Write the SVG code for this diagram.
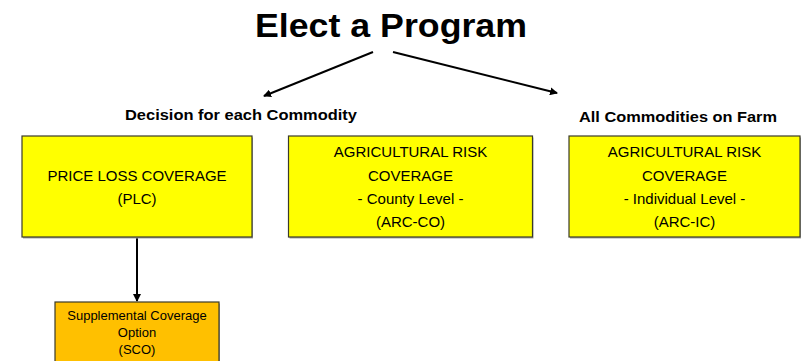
<svg xmlns="http://www.w3.org/2000/svg" width="806" height="361" viewBox="0 0 806 361">
<defs>
<marker id="ah" markerWidth="8" markerHeight="8" refX="7" refY="4" orient="auto" markerUnits="userSpaceOnUse">
<path d="M0,0 L8,4 L0,8 Z" fill="#000"/>
</marker>
<style>
.box{stroke:#3a3a2a;stroke-width:1.2}
.shadow{fill:#a8a8a8}
.y{fill:#ffff00}
.o{fill:#ffc000}
.t{font-family:"Liberation Sans",Arial,sans-serif;fill:#000;text-anchor:middle}
.bt{font-size:15px}
.st{font-size:13px}
.h{font-weight:bold}
.conn{stroke:#000;stroke-width:2;fill:none;marker-end:url(#ah)}
</style>
</defs>
<rect width="806" height="361" fill="#fff"/>
<g id="title">
<text class="t h" x="391" y="37" font-size="33" textLength="272" lengthAdjust="spacingAndGlyphs">Elect a Program</text>
</g>
<g id="label-each">
<text class="t h" x="241" y="120" font-size="15" textLength="232" lengthAdjust="spacingAndGlyphs">Decision for each Commodity</text>
</g>
<g id="label-all">
<text class="t h" x="678" y="122" font-size="15" textLength="198" lengthAdjust="spacingAndGlyphs">All Commodities on Farm</text>
</g>
<g id="connectors">
<line class="conn" x1="373" y1="52" x2="264" y2="96"/>
<line class="conn" x1="393" y1="52" x2="557" y2="93"/>
<line class="conn" x1="137" y1="237.5" x2="137" y2="301"/>
</g>
<g id="plc">
<rect class="shadow" x="23" y="137.5" width="230" height="101"/>
<rect class="box y" x="22" y="136" width="230" height="101"/>
<text class="t bt" x="137" y="181">PRICE LOSS COVERAGE</text>
<text class="t bt" x="137" y="204">(PLC)</text>
</g>
<g id="arc-co">
<rect class="shadow" x="289.5" y="137.5" width="244" height="101"/>
<rect class="box y" x="288.5" y="136" width="244" height="101"/>
<text class="t bt" x="410.5" y="157">AGRICULTURAL RISK</text>
<text class="t bt" x="410.5" y="181">COVERAGE</text>
<text class="t bt" x="410.5" y="204">- County Level -</text>
<text class="t bt" x="410.5" y="227">(ARC-CO)</text>
</g>
<g id="arc-ic">
<rect class="shadow" x="570" y="137.5" width="231" height="101"/>
<rect class="box y" x="569" y="136" width="231" height="101"/>
<text class="t bt" x="684.5" y="157">AGRICULTURAL RISK</text>
<text class="t bt" x="684.5" y="181">COVERAGE</text>
<text class="t bt" x="684.5" y="204">- Individual Level -</text>
<text class="t bt" x="684.5" y="227">(ARC-IC)</text>
</g>
<g id="sco">
<rect class="shadow" x="56" y="303.5" width="164" height="70"/>
<rect class="box o" x="55" y="302" width="164" height="70"/>
<text class="t st" x="137" y="320">Supplemental Coverage</text>
<text class="t st" x="137" y="337">Option</text>
<text class="t st" x="137" y="354">(SCO)</text>
</g>
</svg>
